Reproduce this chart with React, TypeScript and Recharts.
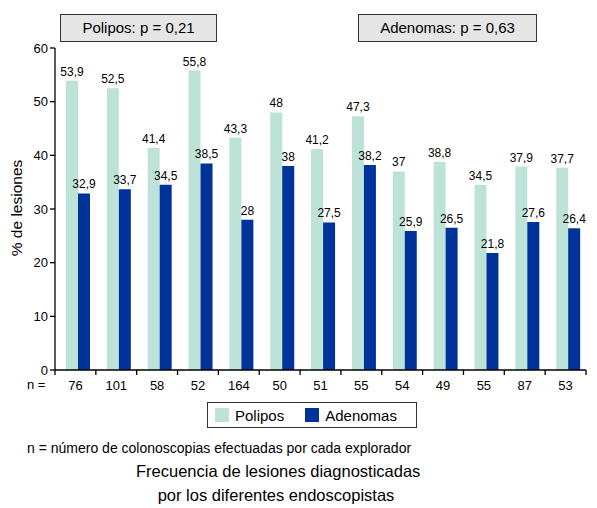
import { BarChart, Bar, XAxis, YAxis, LabelList } from 'recharts'

const explorers = ['76', '101', '58', '52', '164', '50', '51', '55', '54', '49', '55', '87', '53']
const polipos = [53.9, 52.5, 41.4, 55.8, 43.3, 48, 41.2, 47.3, 37, 38.8, 34.5, 37.9, 37.7]
const adenomas = [32.9, 33.7, 34.5, 38.5, 28, 38, 27.5, 38.2, 25.9, 26.5, 21.8, 27.6, 26.4]
const yTicks = [0, 10, 20, 30, 40, 50, 60]

const data = explorers.map((n, i) => ({
  idx: i,
  n,
  polipos: polipos[i],
  adenomas: adenomas[i],
}))

const FONT = '"Liberation Sans", Arial, Helvetica, sans-serif'
const POLIPOS_COLOR = '#bde3d8'
const ADENOMAS_COLOR = '#003399'

const PLOT_LEFT = 55
const PLOT_RIGHT = 586
const STEP = (PLOT_RIGHT - PLOT_LEFT) / explorers.length

const fmt = (v: any) => String(v).replace('.', ',')

// category tick: n value centered, tick marks at the band boundaries
const NTick = ({ x, y, payload, index }: any) => {
  const left = x - STEP / 2
  return (
    <g>
      <line x1={left} x2={left} y1={y - 8} y2={y - 3} stroke="#000" strokeWidth={1.3} />
      {index === explorers.length - 1 && (
        <line x1={left + STEP} x2={left + STEP} y1={y - 8} y2={y - 3} stroke="#000" strokeWidth={1.3} />
      )}
      <text x={x} y={y + 12} textAnchor="middle" fontSize={13} fontFamily={FONT} fill="#000">
        {explorers[payload.value]}
      </text>
    </g>
  )
}

const boxStyle = {
  position: 'absolute' as const,
  top: 14,
  height: 28,
  boxSizing: 'border-box' as const,
  background: '#e6e6e6',
  border: '1.5px solid #333',
  fontSize: 15,
  lineHeight: '26px',
  textAlign: 'center' as const,
}

export default function App() {
  return (
    <div
      style={{
        position: 'absolute',
        left: 0,
        top: 0,
        width: 597,
        height: 508,
        background: '#fff',
        fontFamily: FONT,
        color: '#000',
      }}
    >
      <BarChart
        width={597}
        height={508}
        data={data}
        barGap={0}
        margin={{ top: 48, right: 11, left: 25, bottom: 138 - 30 }}
      >
        <XAxis
          dataKey="idx"
          type="category"
          height={30}
          axisLine={{ stroke: '#000', strokeWidth: 1.3 }}
          tickLine={false}
          interval={0}
          tick={<NTick />}
        />
        <YAxis
          width={30}
          domain={[0, 60]}
          ticks={yTicks}
          interval={0}
          axisLine={{ stroke: '#000', strokeWidth: 1.3 }}
          tickLine={{ stroke: '#000', strokeWidth: 1.3 }}
          tickSize={5}
          tick={{ fontSize: 13, fill: '#000', fontFamily: FONT }}
        />
        {/* empty leading slot, keeps the bar pair slightly right of the band center */}
        <Bar dataKey="spacer" barSize={6} fill="none" legendType="none" isAnimationActive={false} />
        <Bar dataKey="polipos" fill={POLIPOS_COLOR} barSize={12} isAnimationActive={false}>
          <LabelList
            dataKey="polipos"
            position="top"
            offset={5}
            formatter={fmt}
            style={{ fontSize: 12, fill: '#000', fontFamily: FONT }}
          />
        </Bar>
        <Bar dataKey="adenomas" fill={ADENOMAS_COLOR} barSize={12} isAnimationActive={false}>
          <LabelList
            dataKey="adenomas"
            position="top"
            offset={5}
            formatter={fmt}
            style={{ fontSize: 12, fill: '#000', fontFamily: FONT }}
          />
        </Bar>
      </BarChart>

      {/* y axis title */}
      <div
        style={{
          position: 'absolute',
          left: 17,
          top: 208,
          fontSize: 15.5,
          whiteSpace: 'nowrap',
          transform: 'translate(-50%, -50%) rotate(-90deg)',
        }}
      >
        % de lesiones
      </div>

      <div style={{ position: 'absolute', left: 27, top: 377, fontSize: 13 }}>n =</div>

      <div style={{ ...boxStyle, left: 60, width: 157 }}>Polipos: p = 0,21</div>
      <div style={{ ...boxStyle, left: 358, width: 179 }}>Adenomas: p = 0,63</div>

      {/* legend */}
      <div
        style={{
          position: 'absolute',
          left: 207,
          top: 402,
          width: 210,
          height: 26,
          boxSizing: 'border-box',
          border: '1.5px solid #333',
          fontSize: 15,
          display: 'flex',
          alignItems: 'center',
        }}
      >
        <span style={{ width: 14, height: 14, background: POLIPOS_COLOR, marginLeft: 7, marginRight: 6 }} />
        <span>Polipos</span>
        <span style={{ width: 14, height: 14, background: ADENOMAS_COLOR, marginLeft: 21, marginRight: 6 }} />
        <span>Adenomas</span>
      </div>

      <div style={{ position: 'absolute', left: 27, top: 440, fontSize: 14, whiteSpace: 'nowrap' }}>
        n = número de colonoscopias efectuadas por cada explorador
      </div>
      <div
        style={{
          position: 'absolute',
          left: 136,
          width: 280,
          top: 459,
          fontSize: 16.5,
          lineHeight: '24px',
          textAlign: 'center',
          whiteSpace: 'nowrap',
        }}
      >
        Frecuencia de lesiones diagnosticadas
        <br />
        por los diferentes endoscopistas
      </div>
    </div>
  )
}
